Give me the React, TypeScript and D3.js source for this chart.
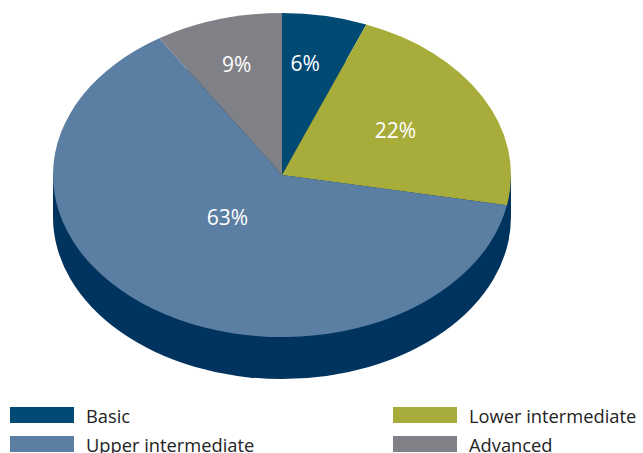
import React from "react";
import * as d3 from "d3";

const categories = ["Basic", "Lower intermediate", "Upper intermediate", "Advanced"];
const values = [6, 22, 63, 9];
const labels = ["6%", "22%", "63%", "9%"];
const colors = ["#004a73", "#a8ac3a", "#5b7ea3", "#808186"];
const labelRadius = [0.69, 0.565, 0.356, 0.708];
const labelAngleShift = [-2.4, 0, 7.7, 0];
const legendOrder = [0, 1, 2, 3];

const W = 643;
const H = 453;
const cx = 282;
const cy = 175;
const rx = 229;
const ry = 162;
const depth = 42;
const sideColor = "#00345e";

export default function App() {
  const pie = d3.pie<number>().sort(null).value((d) => d);
  const arcs = pie(values);
  const arc = d3.arc<d3.PieArcDatum<number>>().innerRadius(0).outerRadius(rx);
  const sy = ry / rx;

  return (
    <svg
      width={W}
      height={H}
      style={{ position: "absolute", left: 0, top: 0 }}
      fontFamily="'Open Sans', sans-serif"
    >
      <rect width={W} height={H} fill="#fff" />
      {/* side wall */}
      <ellipse cx={cx} cy={cy + depth} rx={rx} ry={ry} fill={sideColor} />
      <rect x={cx - rx} y={cy} width={2 * rx} height={depth} fill={sideColor} />
      {/* top */}
      <g transform={`translate(${cx},${cy}) scale(1,${sy})`}>
        {arcs.map((a, i) => (
          <path key={i} d={arc(a) || ""} fill={colors[i]} />
        ))}
      </g>
      {arcs.map((a, i) => {
        const m = (a.startAngle + a.endAngle) / 2 + (labelAngleShift[i] * Math.PI) / 180;
        const x = cx + rx * labelRadius[i] * Math.sin(m);
        const y = cy - ry * labelRadius[i] * Math.cos(m);
        return (
          <text
            key={i}
            x={x}
            y={y + 7}
            fill="#fff"
            fontSize={21}
            textAnchor="middle"
          >
            {labels[i]}
          </text>
        );
      })}
      {/* legend */}
      {legendOrder.map((i, k) => {
        const col = k % 2;
        const row = Math.floor(k / 2);
        const x = col === 0 ? 10 : 393;
        const y = 407 + row * 29;
        return (
          <g key={i}>
            <rect x={x} y={y} width={64} height={16} fill={colors[i]} />
            <text x={x + 76} y={y + 15.5} fontSize={18.3} fill="#222">
              {categories[i]}
            </text>
          </g>
        );
      })}
    </svg>
  );
}
